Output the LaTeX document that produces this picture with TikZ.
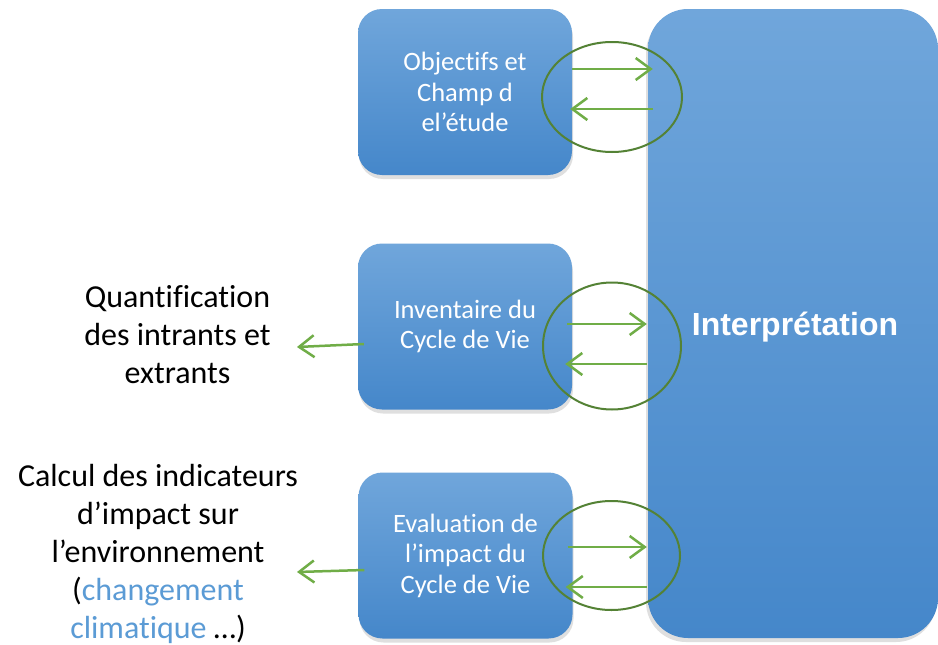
\documentclass[tikz,border=0pt]{standalone}
\usepackage{fontspec}
\setmainfont[Ligatures={NoCommon,NoDiscretionary,NoRare}]{Carlito}
\newfontfamily\arialfont{Liberation Sans}
\usetikzlibrary{shapes.geometric,arrows.meta,shadows,calc}
\definecolor{boxtop}{HTML}{70A6DB}
\definecolor{boxbot}{HTML}{4587CA}
\definecolor{arrgreen}{HTML}{70AD47}
\definecolor{ellgreen}{HTML}{548235}
\definecolor{txtblue}{HTML}{5B9BD5}
\tikzset{
  stagebox/.style={rectangle, rounded corners=24pt, top color=boxtop, bottom color=boxbot,
    draw=none, minimum width=214pt, minimum height=166pt, inner sep=0pt, align=center,
    text=white, font=\fontsize{26.5pt}{30.5pt}\selectfont,
    drop shadow={opacity=0.25, shadow xshift=1pt, shadow yshift=-4pt}},
  bigbox/.style={rectangle, rounded corners=40pt, top color=boxtop, bottom color=boxbot,
    draw=none, minimum width=290pt, minimum height=629pt, inner sep=0pt,
    drop shadow={opacity=0.25, shadow xshift=-2pt, shadow yshift=-4pt}},
  bigtext/.style={text=white, font=\arialfont\bfseries\fontsize{32pt}{36pt}\selectfont},
  ring/.style={ellipse, draw=ellgreen, line width=2pt, inner sep=0pt},
  flow/.style={draw=arrgreen, line width=2.5pt, -{Straight Barb[length=15pt,width=22pt]}},
  sidetext/.style={align=center, font=\fontsize{32pt}{38pt}\selectfont, text=black}
}
\begin{document}
\begin{tikzpicture}[x=1pt,y=-1pt]
\useasboundingbox[fill=white] (0,0) rectangle (938,645);

\node[bigbox] (big) at (793,323.5) {};
\node[bigtext] (it) at (795,327) {Interprétation};

\node[stagebox] (b1) at (465,92) {Objectifs et\\Champ d\\el’étude};
\node[stagebox] (b2) at (465,326.5) {Inventaire du\\Cycle de Vie};
\node[stagebox] (b3) at (465.5,555.5) {Evaluation de\\l’impact du\\Cycle de Vie};

\node[sidetext] (q) at (177.5,335) {Quantification\\des intrants et\\extrants};
\node[sidetext] (c) at (158,554) {Calcul des indicateurs\\d’impact sur\\l’environnement\\(\textcolor{txtblue}{changement}\\\textcolor{txtblue}{climatique} …)};

% rings
\node[ring, minimum width=140pt, minimum height=110pt] (r1) at (612,97) {};
\node[ring, minimum width=138pt, minimum height=127pt] (r2) at (612,346) {};
\node[ring, minimum width=137pt, minimum height=109pt] (r3) at (611.5,555.5) {};

% arrows box1
\draw[flow] ($(b1.east)+(0,-23)$) -- ($(big.west |- b1.east)+(5,-23)$);
\draw[flow] ($(big.west |- b1.east)+(5,17)$) -- ($(b1.east)+(-2,17)$);
% arrows box2
\draw[flow] ($(b2.east)+(-5,-2.5)$) -- ($(big.west |- b2.east)+(-1,-2.5)$);
\draw[flow] ($(big.west |- b2.east)+(-1,37.5)$) -- ($(b2.east)+(-7,37.5)$);
% arrows box3
\draw[flow] ($(b3.east)+(-5,-8.5)$) -- ($(big.west |- b3.east)+(-1,-8.5)$);
\draw[flow] ($(big.west |- b3.east)+(-1,31.5)$) -- ($(b3.east)+(-7,31.5)$);

% left arrows
\coordinate (q1) at ($(b2.west)+(6,17.5)$);
\coordinate (c1) at ($(b3.west)+(6,14.5)$);
\coordinate (q2) at (297,347);
\coordinate (c2) at (297,572);
\draw[flow] (q1) -- (q2);
\draw[flow] (c1) -- (c2);
\end{tikzpicture}
\end{document}
